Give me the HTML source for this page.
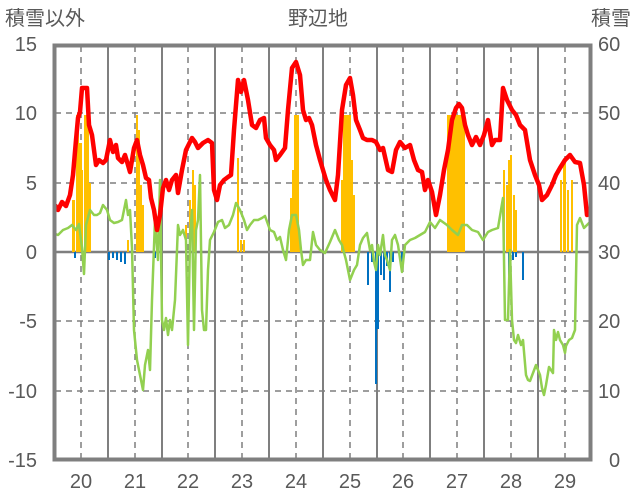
<!DOCTYPE html>
<html><head><meta charset="utf-8"><style>
body{margin:0;background:#fff}
svg{display:block}
text{font-family:"Liberation Sans","Noto Sans CJK JP",sans-serif;fill:#595959;font-size:20px}
</style></head><body>
<svg width="636" height="501" viewBox="0 0 636 501">
<defs><clipPath id="c"><rect x="55" y="46" width="535" height="412"/></clipPath></defs>
<text x="5" y="25">積雪以外</text>
<text x="318" y="25" text-anchor="middle">野辺地</text>
<text x="631" y="25" text-anchor="end">積雪</text>
<g text-anchor="end">
<text x="37" y="51">15</text><text x="37" y="120">10</text><text x="37" y="190">5</text><text x="37" y="259">0</text>
<text x="37" y="328">-5</text><text x="37" y="398">-10</text><text x="37" y="467">-15</text>
</g>
<g>
<text x="598" y="51">60</text><text x="598" y="120">50</text><text x="598" y="190">40</text><text x="598" y="259">30</text>
<text x="598" y="328">20</text><text x="598" y="398">10</text><text x="609" y="467">0</text>
</g>
<g text-anchor="middle">
<text x="81" y="488">20</text><text x="135" y="488">21</text><text x="188" y="488">22</text><text x="242" y="488">23</text><text x="296" y="488">24</text>
<text x="350" y="488">25</text><text x="403" y="488">26</text><text x="457" y="488">27</text><text x="511" y="488">28</text><text x="565" y="488">29</text>
</g>
<g stroke="#7f7f7f" stroke-width="1.5" stroke-dasharray="6,5">
<line x1="55" x2="590" y1="113" y2="113"/><line x1="55" x2="590" y1="183" y2="183"/>
<line x1="55" x2="590" y1="321" y2="321"/><line x1="55" x2="590" y1="391" y2="391"/>
<line x1="81" x2="81" y1="46" y2="458"/><line x1="135" x2="135" y1="46" y2="458"/><line x1="188" x2="188" y1="46" y2="458"/><line x1="242" x2="242" y1="46" y2="458"/><line x1="296" x2="296" y1="46" y2="458"/>
<line x1="350" x2="350" y1="46" y2="458"/><line x1="403" x2="403" y1="46" y2="458"/><line x1="457" x2="457" y1="46" y2="458"/><line x1="511" x2="511" y1="46" y2="458"/><line x1="565" x2="565" y1="46" y2="458"/>
</g>
<g stroke="#7f7f7f" stroke-width="2">
<line x1="108" x2="108" y1="46" y2="458"/><line x1="162" x2="162" y1="46" y2="458"/><line x1="215" x2="215" y1="46" y2="458"/><line x1="269" x2="269" y1="46" y2="458"/><line x1="323" x2="323" y1="46" y2="458"/>
<line x1="377" x2="377" y1="46" y2="458"/><line x1="430" x2="430" y1="46" y2="458"/><line x1="484" x2="484" y1="46" y2="458"/><line x1="538" x2="538" y1="46" y2="458"/>
<line x1="55" x2="590" y1="252" y2="252" stroke-width="2.5"/>
</g>
<g clip-path="url(#c)">
<g fill="#ffc000">
<rect x="72" y="200" width="3" height="52"/><rect x="76" y="115" width="3" height="137"/><rect x="79" y="143" width="3" height="109"/><rect x="81" y="170" width="2" height="82"/><rect x="84" y="115" width="3" height="137"/><rect x="87" y="115" width="2" height="137"/><rect x="89" y="183" width="2" height="69"/>
<rect x="127" y="240" width="2" height="12"/><rect x="136" y="115" width="2" height="137"/><rect x="138" y="130" width="2" height="122"/><rect x="140" y="185" width="2" height="67"/><rect x="142" y="205" width="2" height="47"/>
<rect x="185" y="225" width="2" height="27"/><rect x="189" y="200" width="2" height="52"/><rect x="192" y="170" width="2" height="82"/><rect x="194" y="185" width="2" height="67"/>
<rect x="237" y="158" width="2" height="94"/><rect x="240" y="240" width="2" height="12"/><rect x="243" y="240" width="2" height="12"/>
<rect x="290" y="198" width="2" height="54"/><rect x="292" y="170" width="2" height="82"/><rect x="294" y="115" width="3" height="137"/><rect x="297" y="115" width="2" height="137"/><rect x="299" y="240" width="2" height="12"/>
<rect x="341" y="180" width="2" height="72"/><rect x="343" y="115" width="3" height="137"/><rect x="346" y="115" width="3" height="137"/><rect x="349" y="115" width="2" height="137"/><rect x="351" y="160" width="2" height="92"/><rect x="353" y="195" width="2" height="57"/>
<rect x="447" y="115" width="18" height="137"/>
<rect x="503" y="170" width="2" height="82"/><rect x="506" y="185" width="2" height="67"/><rect x="508" y="160" width="2" height="92"/><rect x="510" y="155" width="2" height="97"/><rect x="513" y="195" width="2" height="57"/><rect x="515" y="210" width="2" height="42"/>
<rect x="560" y="180" width="2" height="72"/><rect x="563" y="160" width="3" height="92"/><rect x="567" y="190" width="2" height="62"/><rect x="571" y="180" width="2" height="72"/>
</g>
<g fill="#0070c0">
<rect x="74" y="252" width="2" height="6"/><rect x="108" y="252" width="2" height="8"/><rect x="112" y="252" width="2" height="6"/><rect x="116" y="252" width="2" height="8"/><rect x="120" y="252" width="2" height="10"/><rect x="124" y="252" width="2" height="12"/><rect x="154" y="252" width="2" height="6"/>
<rect x="367" y="252" width="2" height="33"/><rect x="371" y="252" width="2" height="10"/><rect x="375" y="252" width="2" height="132"/><rect x="377" y="252" width="2" height="77"/><rect x="380" y="252" width="2" height="23"/><rect x="383" y="252" width="2" height="28"/><rect x="386" y="252" width="2" height="14"/><rect x="389" y="252" width="2" height="40"/><rect x="392" y="252" width="2" height="10"/><rect x="401" y="252" width="2" height="10"/>
<rect x="508" y="252" width="2" height="28"/><rect x="512" y="252" width="2" height="8"/><rect x="515" y="252" width="2" height="5"/><rect x="522" y="252" width="2" height="28"/>
</g>
<polyline fill="none" stroke="#92d050" stroke-width="2.5" stroke-linejoin="round" points="53,233 58,235 63,230 68,228 72,225 76,230 79,224 82,248 84,274 86,225 90,210 94,215 97,215 100,213 103,205 107,210 110,220 114,223 118,222 122,220 126,200 128,215 130,210 132,248 134,330 137,360 140,375 143,390 145,365 148,350 150,370 152,300 155,220 158,260 160,180 162,320 164,330 166,318 168,335 170,320 172,330 175,300 178,225 180,235 183,230 186,240 188,345 190,238 192,210 194,330 196,230 198,220 200,175 202,310 204,330 206,330 208,270 210,240 214,232 218,222 222,220 225,228 229,225 233,215 236,203 240,210 244,220 247,230 250,225 254,220 258,220 262,218 265,216 270,230 274,232 277,240 280,237 283,250 286,260 289,230 292,215 296,215 299,230 301,250 303,265 306,260 310,260 313,232 316,245 320,250 325,253 330,242 335,230 339,240 342,245 346,260 350,280 354,270 357,265 360,245 363,238 367,233 370,250 372,245 374,262 376,270 378,245 380,255 383,235 385,255 387,260 390,270 392,240 395,235 398,245 402,272 405,245 410,240 415,238 420,235 425,232 430,222 435,228 440,220 447,225 452,230 458,235 462,225 467,225 472,230 478,232 483,240 488,232 492,230 498,228 503,198 505,320 508,320 510,250 512,320 514,340 516,343 518,335 521,345 523,340 526,375 528,380 530,381 533,373 536,365 540,375 542,388 544,395 546,385 549,367 553,373 554,330 556,340 558,332 560,340 563,345 565,353 566,346 569,340 572,338 575,330 577,225 580,218 584,228 587,225 590,222"/>
<polyline fill="none" stroke="#ff0000" stroke-width="4.5" stroke-linejoin="round" points="55,205 58,210 62,202 66,206 70,195 73,175 76,140 78,118 80,112 82,88 87,88 89,125 92,135 96,165 99,160 103,163 106,160 110,140 113,152 116,145 118,158 122,162 125,155 128,165 130,172 134,148 137,140 140,155 143,165 146,178 149,180 151,198 154,210 157,230 160,215 163,188 166,180 169,190 172,180 176,175 178,193 182,170 186,150 192,138 195,142 198,148 203,143 208,140 212,143 214,190 217,200 220,185 224,180 228,177 231,175 234,130 238,80 241,92 244,80 248,100 252,125 256,128 260,120 264,118 266,138 270,145 274,150 276,160 280,155 285,148 288,110 292,68 296,62 300,75 303,110 306,120 309,118 312,125 316,145 320,160 323,170 326,180 330,190 335,200 338,175 342,110 346,85 350,78 353,95 356,120 360,130 363,138 367,140 372,140 376,142 380,150 383,148 388,170 392,172 396,150 400,142 405,148 410,145 414,160 418,170 422,172 425,190 428,180 432,192 436,215 440,195 444,170 448,150 452,120 456,108 459,104 462,108 465,125 468,135 472,145 476,137 480,145 484,135 488,120 492,145 495,140 500,140 503,88 507,100 512,110 516,115 520,125 525,130 530,160 535,175 539,185 542,200 547,195 552,185 556,175 560,168 565,160 570,155 575,162 580,163 584,185 587,215 590,208"/>
</g>
<line x1="55" x2="590" y1="459" y2="459" stroke="#7030a0" stroke-width="3"/>
<rect x="54.5" y="45.5" width="536" height="414" fill="none" stroke="#7f7f7f" stroke-width="4"/>
</svg>
</body></html>
